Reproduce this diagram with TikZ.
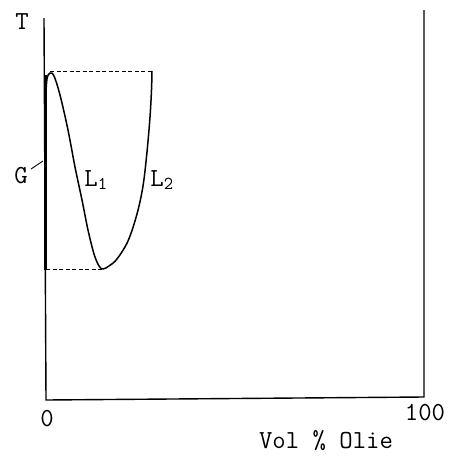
\documentclass[tikz,border=0pt]{standalone}
\usepackage{fontspec}
\setmonofont{Latin Modern Mono}
\usetikzlibrary{calc}
\begin{document}
\begin{tikzpicture}[x=1pt,y=-1pt,
  axis/.style={line width=1.4pt},
  curve/.style={line width=1.5pt,line join=round},
  guide/.style={line width=0.9pt,dash pattern=on 4pt off 2.5pt},
  lbl/.style={font=\ttfamily\fontsize{26}{26}\selectfont,inner sep=0pt}]
\useasboundingbox (0,0) rectangle (448,456);
% axes
\coordinate (ytop) at (44,18);
\coordinate (orig) at (46,400);
\coordinate (xend) at (424,397);
\coordinate (rtop) at (424,10);
\draw[axis] (ytop) -- (orig) -- (xend) -- (rtop);
% gas branch
\coordinate (gtop) at (45.5,75);
\coordinate (gbot) at (45.5,270);
\draw[line width=3pt] (gtop) -- (gbot);
% dashed guides
\coordinate (peak) at (50,71);
\coordinate (ltop) at (152,71);
\coordinate (vmin) at (103,269);
\coordinate (abot) at (46,269);
\draw[guide] (peak) -- (ltop);
\draw[guide] (abot) -- (vmin);
% curve L1 / L2
\draw[curve] plot[smooth,tension=0.55] coordinates {
 (45.5,100) (47,79) (50,73) (54,76) (60,95) (68,130) (75,167) (82,200)
 (88,230) (94,254) (99,266) (103,269) (109,266) (117,259) (128,241)
 (137,214) (143,186) (147,152) (150,117) (151.5,90) (152,71)};
% labels
\node[lbl] (T) at (22,22) {T};
\node[lbl] (G) at (21,176) {G};
\coordinate (gtip) at (43,161);
\draw[line width=0.9pt] (31,169) -- (gtip);
\node[lbl] (L1) at (96,180) {L$_{\mathtt{1}}$};
\node[lbl] (L2) at (162,180) {L$_{\mathtt{2}}$};
\node[lbl] (x0) at (47,419) {0};
\node[lbl] (x100) at (425,413) {100};
\node[lbl] (xl) at (326,441) {Vol \% Olie};
\end{tikzpicture}
\end{document}
